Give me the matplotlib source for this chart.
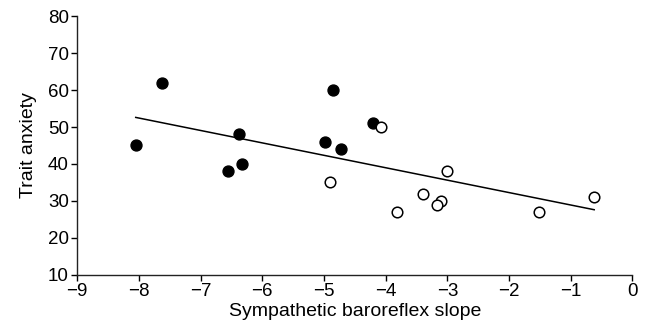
import numpy as np
import matplotlib.pyplot as plt

plt.rcParams['font.family'] = ['Liberation Sans', 'DejaVu Sans']

# Pacientes (círculos rellenos) y controles (círculos vacíos)
x_filled = [-8.05, -7.63, -6.37, -6.33, -6.56, -4.99, -4.85, -4.73, -4.21]
y_filled = [45, 62, 48, 40, 38, 46, 60, 44, 51]
x_open = [-4.90, -4.08, -3.00, -3.40, -3.10, -3.17, -3.82, -1.51, -0.62]
y_open = [35, 50, 38, 32, 30, 29, 27, 27, 31]

x_ticks = [-9, -8, -7, -6, -5, -4, -3, -2, -1, 0]
y_ticks = [10, 20, 30, 40, 50, 60, 70, 80]

fig = plt.figure(figsize=(6.48, 3.36), dpi=100)
ax = fig.add_axes([0.119, 0.182, 0.857, 0.770])

# Recta de regresión sobre todos los puntos
x_all = np.array(x_filled + x_open)
y_all = np.array(y_filled + y_open)
m, b = np.polyfit(x_all, y_all, 1)
xl = np.array([x_all.min(), x_all.max()])
ax.plot(xl, m * xl + b, color='black', linewidth=1.1, zorder=2)

ax.scatter(x_filled, y_filled, s=62, color='black', edgecolors='black', zorder=3)
ax.scatter(x_open, y_open, s=58, facecolors='white', edgecolors='black',
           linewidths=1.1, zorder=3)

ax.set_xlim(-9, 0)
ax.set_ylim(10, 80)
ax.set_xticks(x_ticks)
ax.set_yticks(y_ticks)
ax.set_xticklabels(['\u2212' + str(-t) if t < 0 else str(t) for t in x_ticks])

for s in ['top', 'right']:
    ax.spines[s].set_visible(False)
for s in ['left', 'bottom']:
    ax.spines[s].set_linewidth(1.0)
    ax.spines[s].set_color('#222222')
ax.tick_params(direction='out', length=4, width=1.0, labelsize=13.5, pad=2)

ax.set_xlabel('Sympathetic baroreflex slope', fontsize=14, labelpad=2)
ax.set_ylabel('Trait anxiety', fontsize=14, labelpad=8)

fig.savefig('out.png', dpi=100)
